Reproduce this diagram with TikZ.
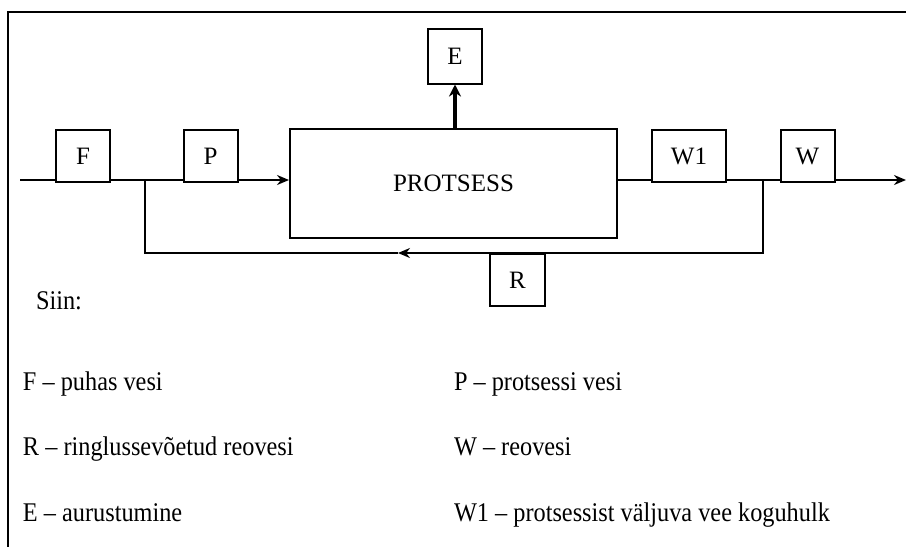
\documentclass[tikz,border=0pt]{standalone}
\usepackage{fontspec}
\setmainfont{Liberation Serif}
\newfontfamily\legfont[FakeStretch=0.9,Ligatures=TeX]{Liberation Serif}
\usetikzlibrary{arrows.meta,positioning}

\begin{document}
\begin{tikzpicture}[x=0.5pt,y=-0.5pt,>={Stealth[length=6pt,width=5pt]},line width=1pt,
box/.style={draw,fill=white,inner sep=0pt,minimum width=27pt,minimum height=26pt,
  font=\fontsize{12.5}{14}\selectfont},
legend/.style={anchor=base west,inner sep=0pt,font=\legfont\fontsize{13.5}{15}\selectfont}]
\useasboundingbox (0,0) rectangle (906,547);
\draw (906,12) -- (8,12) -- (8,547);

% boxes on the main line
\node[box]                      (F) at (83,156)    {F};
\node[box]                      (P) at (210.5,156) {P};
\node[box,minimum width=163.5pt,minimum height=54.5pt] (proc) at (453.5,183.5) {PROTSESS};
\node[box,minimum width=37pt]   (W1) at (689,156)  {W1};
\node[box]                      (W) at (807.5,156) {W};
\node[box,minimum height=27.5pt] (E) at (455,56)   {E};
\node[box,minimum width=27.5pt] (R) at (517.5,280) {R};

% points of the lines
\coordinate (in)  at (20,180);
\coordinate (out) at (906,180);
\coordinate (bl)  at (145,180);
\coordinate (br)  at (763,180);
\coordinate (bl2) at (145,253);
\coordinate (br2) at (763,253);
\coordinate (ra)  at (398,253);

\draw (in) -- (F.west |- in);
\draw (F.east |- in) -- (P.west |- in);
\draw[->] (P.east |- in) -- (proc.west |- in);
\draw (proc.east |- in) -- (W1.west |- in);
\draw (W1.east |- in) -- (W.west |- in);
\draw[->] (W.east |- in) -- (out);
\draw[->] (br) -- (br2) -- (ra);
\draw (ra) -- (bl2) -- (bl);
\draw[-{Stealth[length=6pt,width=6pt]},line width=1.6pt] (proc.north -| E) -- (E.south);

% legend
\node[legend] (siin) at (35,309) {Siin:};
\node[legend] (lF)  at (22,390)  {F – puhas vesi};
\node[legend] (lR)  at (22,455)  {R – ringlussevõetud reovesi};
\node[legend] (lE)  at (22,521)  {E – aurustumine};
\node[legend] (lP)  at (453,390) {P – protsessi vesi};
\node[legend] (lW)  at (453,455) {W – reovesi};
\node[legend] (lW1) at (453,521) {W1 – protsessist väljuva vee koguhulk};
\end{tikzpicture}
\end{document}
